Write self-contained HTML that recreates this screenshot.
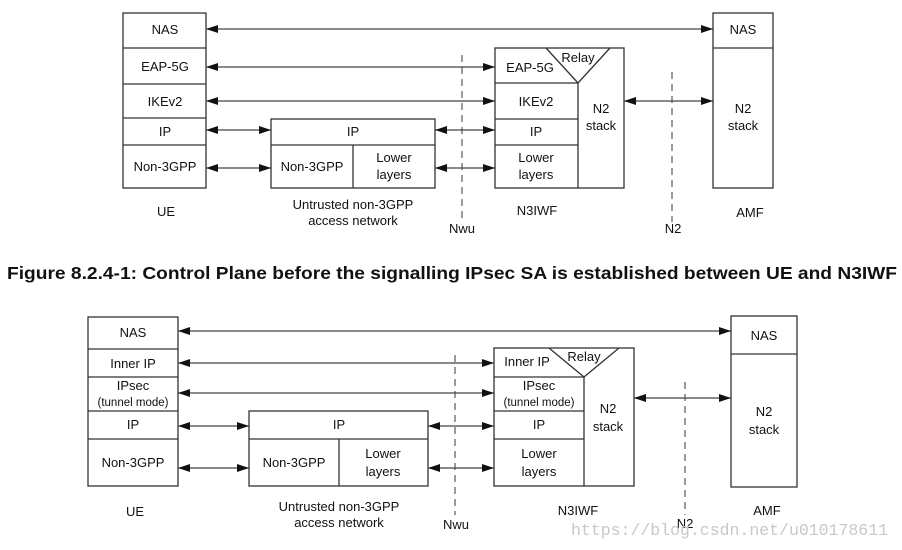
<!DOCTYPE html>
<html><head><meta charset="utf-8"><style>
html,body{margin:0;padding:0;background:#fff}
svg{display:block}
text{font-family:"Liberation Sans",Arial,sans-serif;font-size:13px;fill:#111}
.b{fill:none;stroke:#333;stroke-width:1.3}
.l{stroke:#444;stroke-width:1.3}
.d{stroke:#666;stroke-width:1.3;stroke-dasharray:7,5}
</style></head><body>
<svg width="902" height="550" viewBox="0 0 902 550" xmlns="http://www.w3.org/2000/svg">
<defs>
<marker id="a" viewBox="0 0 12 8" refX="12" refY="4" markerWidth="12" markerHeight="8" markerUnits="userSpaceOnUse" orient="auto-start-reverse"><path d="M0,0L12,4L0,8z" fill="#111"/></marker>
</defs>
<g text-anchor="middle">
<!-- Diagram 1 -->
<rect class="b" x="123" y="13" width="83" height="175"/>
<line class="b" x1="123" y1="48" x2="206" y2="48"/><line class="b" x1="123" y1="84" x2="206" y2="84"/>
<line class="b" x1="123" y1="118" x2="206" y2="118"/><line class="b" x1="123" y1="145" x2="206" y2="145"/>
<text x="165" y="34">NAS</text><text x="165" y="71">EAP-5G</text><text x="165" y="106">IKEv2</text>
<text x="165" y="136">IP</text><text x="165" y="171">Non-3GPP</text>
<rect class="b" x="271" y="119" width="164" height="69"/>
<line class="b" x1="271" y1="145" x2="435" y2="145"/><line class="b" x1="353" y1="145" x2="353" y2="188"/>
<text x="353" y="136">IP</text><text x="312" y="171">Non-3GPP</text><text x="394" y="162">Lower</text><text x="394" y="179">layers</text>
<rect class="b" x="495" y="48" width="129" height="140"/>
<line class="b" x1="578" y1="83" x2="578" y2="188"/>
<line class="b" x1="495" y1="83" x2="578" y2="83"/><line class="b" x1="495" y1="119" x2="578" y2="119"/><line class="b" x1="495" y1="145" x2="578" y2="145"/>
<polyline class="b" points="546,48 578,83 610,48"/>
<text x="530" y="72">EAP-5G</text><text x="578" y="62">Relay</text><text x="536" y="106">IKEv2</text>
<text x="536" y="136">IP</text><text x="536" y="162">Lower</text><text x="536" y="179">layers</text>
<text x="601" y="113">N2</text><text x="601" y="130">stack</text>
<rect class="b" x="713" y="13" width="60" height="175"/><line class="b" x1="713" y1="48" x2="773" y2="48"/>
<text x="743" y="34">NAS</text><text x="743" y="113">N2</text><text x="743" y="130">stack</text>
<line class="d" x1="462" y1="55" x2="462" y2="222"/><line class="d" x1="672" y1="72" x2="672" y2="222"/>
<line class="l" x1="206" y1="29" x2="713" y2="29" marker-start="url(#a)" marker-end="url(#a)"/>
<line class="l" x1="206" y1="67" x2="495" y2="67" marker-start="url(#a)" marker-end="url(#a)"/>
<line class="l" x1="206" y1="101" x2="495" y2="101" marker-start="url(#a)" marker-end="url(#a)"/>
<line class="l" x1="206" y1="130" x2="271" y2="130" marker-start="url(#a)" marker-end="url(#a)"/>
<line class="l" x1="435" y1="130" x2="495" y2="130" marker-start="url(#a)" marker-end="url(#a)"/>
<line class="l" x1="206" y1="168" x2="271" y2="168" marker-start="url(#a)" marker-end="url(#a)"/>
<line class="l" x1="435" y1="168" x2="495" y2="168" marker-start="url(#a)" marker-end="url(#a)"/>
<line class="l" x1="624" y1="101" x2="713" y2="101" marker-start="url(#a)" marker-end="url(#a)"/>
<text x="166" y="216">UE</text><text x="353" y="209">Untrusted non-3GPP</text><text x="353" y="225">access network</text>
<text x="462" y="233">Nwu</text><text x="537" y="215">N3IWF</text><text x="673" y="233">N2</text><text x="750" y="217">AMF</text>
</g>
<text x="7" y="279" textLength="890" lengthAdjust="spacingAndGlyphs" style="font-weight:bold;font-size:17.5px">Figure 8.2.4-1: Control Plane before the signalling IPsec SA is established between UE and N3IWF</text>
<g text-anchor="middle">
<!-- Diagram 2 -->
<rect class="b" x="88" y="317" width="90" height="169"/>
<line class="b" x1="88" y1="349" x2="178" y2="349"/><line class="b" x1="88" y1="377" x2="178" y2="377"/>
<line class="b" x1="88" y1="411" x2="178" y2="411"/><line class="b" x1="88" y1="439" x2="178" y2="439"/>
<text x="133" y="337">NAS</text><text x="133" y="368">Inner IP</text><text x="133" y="390">IPsec</text>
<text x="133" y="406" style="font-size:11.5px">(tunnel mode)</text><text x="133" y="429">IP</text><text x="133" y="467">Non-3GPP</text>
<rect class="b" x="249" y="411" width="179" height="75"/>
<line class="b" x1="249" y1="439" x2="428" y2="439"/><line class="b" x1="339" y1="439" x2="339" y2="486"/>
<text x="339" y="429">IP</text><text x="294" y="467">Non-3GPP</text><text x="383" y="458">Lower</text><text x="383" y="476">layers</text>
<rect class="b" x="494" y="348" width="140" height="138"/>
<line class="b" x1="584" y1="377" x2="584" y2="486"/>
<line class="b" x1="494" y1="377" x2="584" y2="377"/><line class="b" x1="494" y1="411" x2="584" y2="411"/><line class="b" x1="494" y1="439" x2="584" y2="439"/>
<polyline class="b" points="549,348 584,377 619,348"/>
<text x="527" y="366">Inner IP</text><text x="584" y="361">Relay</text><text x="539" y="390">IPsec</text>
<text x="539" y="406" style="font-size:11.5px">(tunnel mode)</text><text x="539" y="429">IP</text>
<text x="539" y="458">Lower</text><text x="539" y="476">layers</text>
<text x="608" y="413">N2</text><text x="608" y="431">stack</text>
<rect class="b" x="731" y="316" width="66" height="171"/><line class="b" x1="731" y1="354" x2="797" y2="354"/>
<text x="764" y="340">NAS</text><text x="764" y="416">N2</text><text x="764" y="434">stack</text>
<line class="d" x1="455" y1="355" x2="455" y2="515"/><line class="d" x1="685" y1="382" x2="685" y2="515"/>
<line class="l" x1="178" y1="331" x2="731" y2="331" marker-start="url(#a)" marker-end="url(#a)"/>
<line class="l" x1="178" y1="363" x2="494" y2="363" marker-start="url(#a)" marker-end="url(#a)"/>
<line class="l" x1="178" y1="393" x2="494" y2="393" marker-start="url(#a)" marker-end="url(#a)"/>
<line class="l" x1="178" y1="426" x2="249" y2="426" marker-start="url(#a)" marker-end="url(#a)"/>
<line class="l" x1="428" y1="426" x2="494" y2="426" marker-start="url(#a)" marker-end="url(#a)"/>
<line class="l" x1="178" y1="468" x2="249" y2="468" marker-start="url(#a)" marker-end="url(#a)"/>
<line class="l" x1="428" y1="468" x2="494" y2="468" marker-start="url(#a)" marker-end="url(#a)"/>
<line class="l" x1="634" y1="398" x2="731" y2="398" marker-start="url(#a)" marker-end="url(#a)"/>
<text x="135" y="516">UE</text><text x="339" y="511">Untrusted non-3GPP</text><text x="339" y="527">access network</text>
<text x="456" y="529">Nwu</text><text x="578" y="515">N3IWF</text><text x="685" y="528">N2</text><text x="767" y="515">AMF</text>
</g>
<text x="571" y="535" textLength="317" lengthAdjust="spacingAndGlyphs" style="font-family:'Liberation Mono',monospace;font-size:17px;fill:#c8c8c8">https://blog.csdn.net/u010178611</text>
</svg>
</body></html>
